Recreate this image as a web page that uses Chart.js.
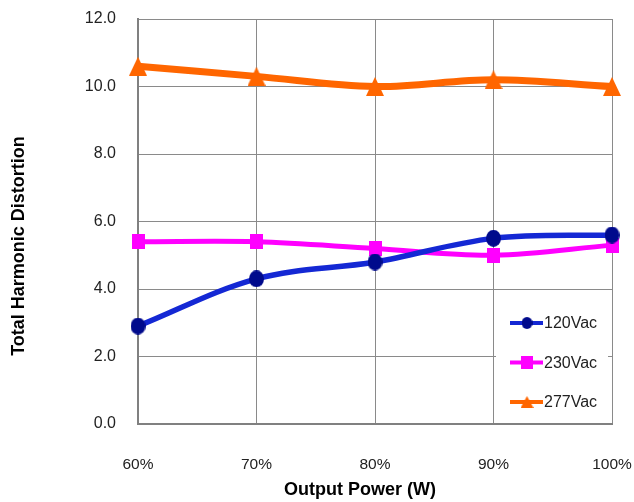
<!DOCTYPE html>
<html>
<head>
<meta charset="utf-8">
<script src="https://cdn.jsdelivr.net/npm/chart.js@4"></script>
<style>
  html, body { margin: 0; padding: 0; background: #fff; }
  #wrap { width: 634px; height: 502px; position: relative; }
</style>
</head>
<body>
<div id="wrap"><canvas id="grafico"></canvas></div>
<script>
const categorias = ["60%", "70%", "80%", "90%", "100%"];
const serie120 = [2.9, 4.3, 4.8, 5.5, 5.6];
const serie230 = [5.4, 5.4, 5.2, 5.0, 5.3];
const serie277 = [10.6, 10.3, 10.0, 10.2, 10.0];
const rotulos = ["120Vac", "230Vac", "277Vac"];

const fonteTick = "'Liberation Sans', Arial, sans-serif";

// marcadores um pouco esticados na vertical, como no original
function marcador(forma, w, h, cor) {
  const c = document.createElement("canvas");
  c.width = w;
  c.height = h;
  const g = c.getContext("2d");
  g.fillStyle = cor;
  g.beginPath();
  if (forma === "circulo") {
    g.ellipse(w / 2, h / 2, w / 2, h / 2, 0, 0, Math.PI * 2);
  } else if (forma === "triangulo") {
    g.moveTo(w / 2, 0);
    g.lineTo(w, h);
    g.lineTo(0, h);
    g.closePath();
  } else {
    g.rect(0, 0, w, h);
  }
  g.fill();
  return c;
}

const marcadores = [
  marcador("circulo", 15, 17, "#000a8c"),
  marcador("quadrado", 13, 15, "#ff00ff"),
  marcador("triangulo", 18, 19, "#ff6600")
];
const marcadoresLegenda = [
  marcador("circulo", 11, 12, "#000a8c"),
  marcador("quadrado", 12, 13, "#ff00ff"),
  marcador("triangulo", 13, 12, "#ff6600")
];

// legenda desenhada dentro da area do grafico, canto inferior direito
const legendaInterna = {
  id: "legendaInterna",
  afterDraw(chart) {
    const ctx = chart.ctx;
    const area = chart.chartArea;
    const x0 = area.right - 118;
    ctx.save();
    ctx.fillStyle = "#fff";
    ctx.fillRect(x0 + 2, area.bottom - 118, 112, 116);
    chart.data.datasets.forEach((ds, i) => {
      const y = area.bottom - 101 + i * 39.5;
      ctx.strokeStyle = ds.borderColor;
      ctx.lineWidth = 4;
      ctx.beginPath();
      ctx.moveTo(x0 + 16, y);
      ctx.lineTo(x0 + 49, y);
      ctx.stroke();
      const m = marcadoresLegenda[i];
      ctx.drawImage(m, x0 + 33 - m.width / 2, y - m.height / 2);
      ctx.fillStyle = "#222";
      ctx.font = "16px " + fonteTick;
      ctx.textBaseline = "middle";
      ctx.fillText(ds.label, x0 + 50, y + 1);
    });
    // titulos dos eixos
    ctx.fillStyle = "#000";
    ctx.font = "bold 18px 'Liberation Sans', Arial, sans-serif";
    ctx.textAlign = "center";
    ctx.textBaseline = "middle";
    ctx.fillText("Output Power (W)", 360, 490);
    ctx.translate(19, 246);
    ctx.rotate(-Math.PI / 2);
    ctx.fillText("Total Harmonic Distortion", 0, 0);
    ctx.restore();
  }
};

function criarGrafico() {
  const ctx = document.getElementById("grafico").getContext("2d");
  new Chart(ctx, {
    type: "line",
    data: {
      labels: categorias,
      datasets: [
        {
          label: rotulos[0],
          data: serie120,
          borderColor: "#1428d4",
          backgroundColor: "#000a8c",
          pointStyle: marcadores[0],
          borderWidth: 5.5,
          tension: 0.35
        },
        {
          label: rotulos[1],
          data: serie230,
          borderColor: "#ff00ff",
          backgroundColor: "#ff00ff",
          pointStyle: marcadores[1],
          borderWidth: 5,
          tension: 0.35
        },
        {
          label: rotulos[2],
          data: serie277,
          borderColor: "#ff6600",
          backgroundColor: "#ff6600",
          pointStyle: marcadores[2],
          borderWidth: 7,
          tension: 0.35
        }
      ]
    },
    options: {
      responsive: true,
      maintainAspectRatio: false,
      animation: false,
      layout: { padding: 0 },
      plugins: {
        legend: { display: false },
        tooltip: { enabled: false }
      },
      scales: {
        x: {
          offset: false,
          grid: { color: "#8a8a8a", lineWidth: 1, drawTicks: false },
          border: { color: "#808080", width: 2 },
          ticks: {
            color: "#222",
            font: { family: fonteTick, size: 15.5 },
            padding: 31,
            maxRotation: 0
          },
          afterFit(s) {
            s.height = 78;
            s.paddingRight = 22;
            s.paddingLeft = 0;
          }
        },
        y: {
          min: 0,
          max: 12,
          grid: { color: "#8a8a8a", lineWidth: 1, drawTicks: false },
          border: { color: "#808080", width: 2 },
          ticks: {
            stepSize: 2,
            color: "#222",
            font: { family: fonteTick, size: 16 },
            padding: 22,
            callback: v => v.toFixed(1)
          },
          afterFit(s) {
            s.width = 138;
            s.paddingTop = 19;
            s.paddingBottom = 0;
          }
        }
      }
    },
    plugins: [legendaInterna]
  });
}

criarGrafico();
</script>
</body>
</html>
